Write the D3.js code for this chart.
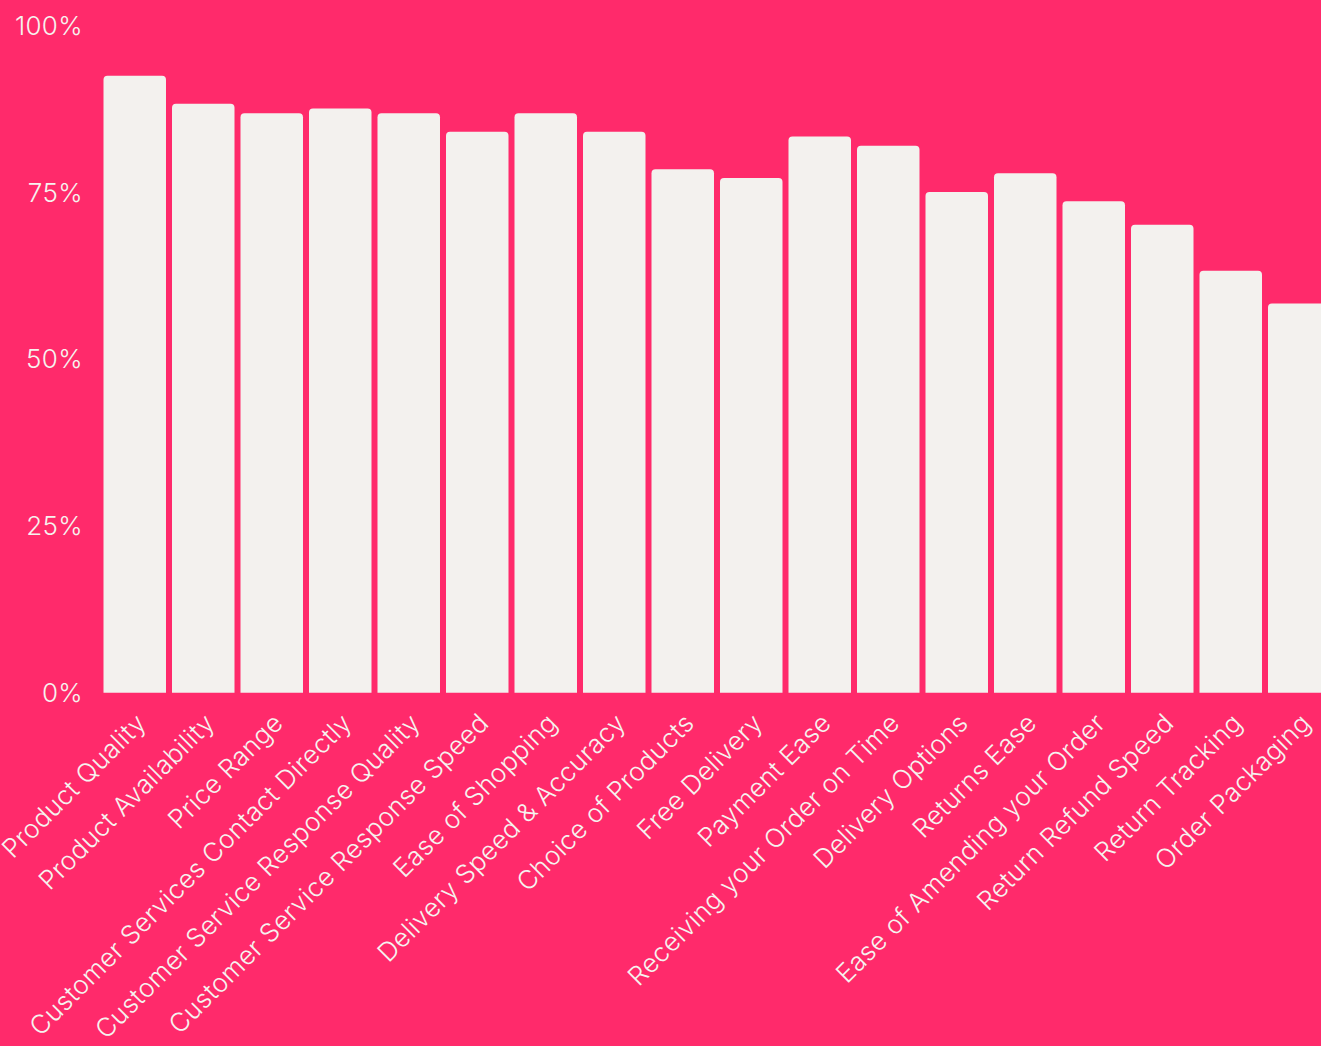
<!DOCTYPE html>
<html>
<head>
<meta charset="utf-8">
<script src="https://cdn.jsdelivr.net/npm/d3@7"></script>
<style>
  html, body { margin: 0; padding: 0; background: #FF2A6B; }
  svg { display: block; }
  text { font-family: "Inter", "Open Sans", sans-serif; font-weight: 350; letter-spacing: 0.35px; fill: #F6F3EF; }
</style>
</head>
<body>
<svg id="chart" width="1321" height="1046"></svg>
<script>
// Share of respondents rating each aspect as important
const categories = [
  "Product Quality", "Product Availability", "Price Range",
  "Customer Services Contact Directly", "Customer Service Response Quality",
  "Customer Service Response Speed", "Ease of Shopping", "Delivery Speed & Accuracy",
  "Choice of Products", "Free Delivery", "Payment Ease", "Receiving your Order on Time",
  "Delivery Options", "Returns Ease", "Ease of Amending your Order",
  "Return Refund Speed", "Return Tracking", "Order Packaging"
];
const values = [
  92.4, 88.2, 86.8, 87.5, 86.8, 84.0, 86.8, 84.0, 78.4,
  77.1, 83.3, 81.9, 75.0, 77.8, 73.6, 70.1, 63.2, 58.3
];
const yTicks = [0, 25, 50, 75, 100];

const svg = d3.select("#chart");
const W = 1321, H = 1046;

svg.append("rect").attr("width", W).attr("height", H).attr("fill", "#FF2A6B");

const x = d3.scaleBand()
  .domain(categories)
  .range([103.5, 1330.5])
  .paddingInner(0.0876)
  .paddingOuter(0);

const y = d3.scaleLinear().domain([0, 100]).range([692.7, 25]);

// bars with rounded top corners
const r = 4;
function barPath(x0, w, yTop, yBase) {
  return `M${x0},${yBase}V${yTop + r}Q${x0},${yTop} ${x0 + r},${yTop}` +
         `H${x0 + w - r}Q${x0 + w},${yTop} ${x0 + w},${yTop + r}V${yBase}Z`;
}

svg.append("g").selectAll("path")
  .data(categories.map((c, i) => ({ c, v: values[i] })))
  .join("path")
  .attr("fill", "#F3F1EE")
  .attr("d", d => barPath(x(d.c), x.bandwidth(), y(d.v), y(0)));

// y axis labels
const yAxis = d3.axisLeft(y)
  .tickValues(yTicks)
  .tickFormat(d => d + "%")
  .tickSize(0)
  .tickPadding(0);
const gy = svg.append("g").attr("transform", "translate(83,0)").call(yAxis);
gy.select(".domain").remove();
gy.selectAll("text")
  .attr("font-size", 26)
  .attr("letter-spacing", "0.8px")
  .attr("font-family", null)
  .attr("fill", null)
  .attr("dy", "0.35em");

// x axis labels, rotated
const xAxis = d3.axisBottom(x).tickSize(0).tickPadding(0);
const gx = svg.append("g").attr("transform", `translate(0,${y(0)})`).call(xAxis);
gx.select(".domain").remove();
gx.selectAll("text")
  .attr("font-size", 26)
  .attr("font-family", null)
  .attr("fill", null)
  .attr("text-anchor", "end")
  .attr("dy", null)
  .attr("y", 0)
  .attr("transform", "translate(13,32) rotate(-45)");
</script>
</body>
</html>
